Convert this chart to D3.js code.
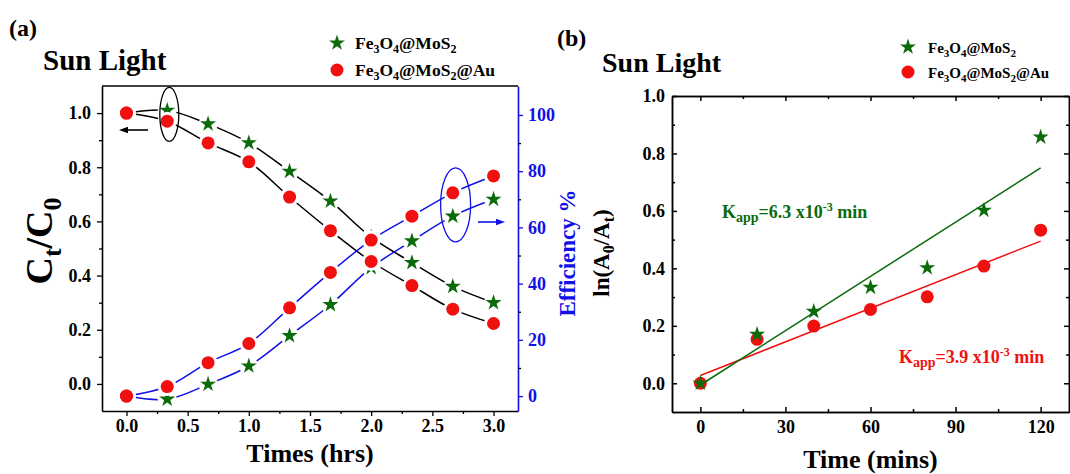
<!DOCTYPE html>
<html>
<head>
<meta charset="utf-8">
<script src="https://cdn.jsdelivr.net/npm/d3@7"></script>
<style>
  html, body { margin: 0; padding: 0; background: #fff; }
  svg { display: block; }
  text { font-family: "Liberation Serif", "Times New Roman", serif; font-weight: bold; }
</style>
</head>
<body>
<svg id="chart" width="1070" height="474"></svg>
<script>
// ---- Panel (a): degradation under sun light ----
const timesHrs   = [0, 0.333, 0.667, 1.0, 1.333, 1.667, 2.0, 2.333, 2.667, 3.0];
const ratioMoS2  = [1.00, 1.01, 0.96, 0.89, 0.785, 0.675, 0.542, 0.448, 0.36, 0.30];
const ratioAu    = [1.00, 0.97, 0.89, 0.82, 0.69, 0.566, 0.452, 0.363, 0.276, 0.223];
const effMoS2    = [0, -1.1, 4.2, 10.7, 21.5, 32.5, 45.7, 55.2, 64.0, 70.0];
const effAu      = [0, 3.4, 11.9, 18.7, 31.4, 44.0, 55.5, 64.0, 72.3, 78.3];
const hrsTicks   = [0, 0.5, 1.0, 1.5, 2.0, 2.5, 3.0];
const ratioTicks = [0, 0.2, 0.4, 0.6, 0.8, 1.0];
const effTicks   = [0, 20, 40, 60, 80, 100];

// ---- Panel (b): pseudo-first-order kinetics ----
const timeMins   = [0, 20, 40, 60, 80, 100, 120];
const lnMoS2     = [0, 0.17, 0.25, 0.334, 0.402, 0.602, 0.857];
const lnAu       = [0, 0.153, 0.199, 0.257, 0.301, 0.408, 0.533];
const kappMoS2   = 6.3;   // x10^-3 min^-1
const kappAu     = 3.9;   // x10^-3 min^-1
const fitIntercepts = { MoS2: -0.006, Au: 0.027 };
const minsTicks  = [0, 30, 60, 90, 120];
const lnTicks    = [0, 0.2, 0.4, 0.6, 0.8, 1.0];

const GREEN = "#0b6b0b", RED = "#f01010", BLUE = "#1010e8", BLACK = "#000";

const svg = d3.select("#chart");

// markers ------------------------------------------------------------
const starPath = d3.symbol().type(d3.symbolStar).size(80)();
function drawStars(g, pts, halo) {
  if (halo) g.selectAll(null).data(pts).join("circle")
    .attr("cx", d => d[0]).attr("cy", d => d[1]).attr("r", 9.5).attr("fill", "#fff");
  g.selectAll(null).data(pts).join("path")
    .attr("d", starPath).attr("transform", d => `translate(${d[0]},${d[1]})`)
    .attr("fill", GREEN);
}
function drawDots(g, pts, halo) {
  if (halo) g.selectAll(null).data(pts).join("circle")
    .attr("cx", d => d[0]).attr("cy", d => d[1]).attr("r", 9.5).attr("fill", "#fff");
  g.selectAll(null).data(pts).join("circle")
    .attr("cx", d => d[0]).attr("cy", d => d[1]).attr("r", 6.5).attr("fill", RED);
}
// chemical formula with subscripts
function formula(sel, parts, size, subSize) {
  const shift = Math.round(subSize * 0.35);
  let pending = 0;
  parts.forEach(p => {
    if (typeof p === "string") {
      sel.append("tspan").attr("dy", pending).attr("font-size", size).text(p);
      pending = 0;
    } else {
      sel.append("tspan").attr("dy", shift - pending).attr("font-size", subSize).text(p.sub);
      pending = -shift;
    }
  });
}
const fMoS2 = ["Fe", {sub: "3"}, "O", {sub: "4"}, "@MoS", {sub: "2"}];
const fAu   = ["Fe", {sub: "3"}, "O", {sub: "4"}, "@MoS", {sub: "2"}, "@Au"];

function arrow(g, x1, x2, y, color) {
  const dir = Math.sign(x2 - x1);
  g.append("line").attr("x1", x1).attr("x2", x2 - dir * 6).attr("y1", y).attr("y2", y)
    .attr("stroke", color).attr("stroke-width", 1.6);
  g.append("path").attr("d", `M${x2},${y} L${x2 - dir * 9},${y - 3.2} L${x2 - dir * 9},${y + 3.2} Z`)
    .attr("fill", color);
}

// ================= Panel (a) =================
{
  const L = 102, R = 518, T = 86, B = 411;
  const x = d3.scaleLinear().domain([-0.2, 3.2]).range([L, R]);
  const yL = d3.scaleLinear().domain([-0.1, 1.1]).range([B, T]);
  const yR = d3.scaleLinear().domain([-5.3, 110.3]).range([B, T]);
  const g = svg.append("g");

  // frame
  g.append("line").attr("x1", L).attr("x2", R).attr("y1", T).attr("y2", T).attr("stroke", BLACK).attr("stroke-width", 1.6);

  const ax = g.append("g").attr("transform", `translate(0,${B})`)
    .call(d3.axisBottom(x).tickValues(hrsTicks).tickFormat(d3.format(".1f")).tickSize(5).tickSizeOuter(0).tickPadding(3));
  g.append("g").attr("transform", `translate(0,${B})`)
    .call(d3.axisBottom(x).tickValues([0.25, 0.75, 1.25, 1.75, 2.25, 2.75]).tickFormat("").tickSize(3).tickSizeOuter(0))
    .select(".domain").remove();
  const ayl = g.append("g").attr("transform", `translate(${L},0)`)
    .call(d3.axisLeft(yL).tickValues(ratioTicks).tickFormat(d3.format(".1f")).tickSize(5).tickSizeOuter(0).tickPadding(6));
  g.append("g").attr("transform", `translate(${L},0)`)
    .call(d3.axisLeft(yL).tickValues([0.1, 0.3, 0.5, 0.7, 0.9]).tickFormat("").tickSize(3).tickSizeOuter(0))
    .select(".domain").remove();
  const ayr = g.append("g").attr("transform", `translate(${R},0)`)
    .call(d3.axisRight(yR).tickValues(effTicks).tickSize(5).tickSizeOuter(0).tickPadding(5));
  g.append("g").attr("transform", `translate(${R},0)`)
    .call(d3.axisRight(yR).tickValues([10, 30, 50, 70, 90]).tickFormat("").tickSize(3).tickSizeOuter(0))
    .select(".domain").remove();
  [ax, ayl].forEach(a => { a.selectAll("path,line").attr("stroke", BLACK).attr("stroke-width", 1.6);
    a.selectAll("text").attr("font-size", 18).attr("fill", BLACK).attr("font-family", "Liberation Serif").attr("font-weight", "bold"); });
  ayr.selectAll("path,line").attr("stroke", BLUE).attr("stroke-width", 1.6);
  ayr.selectAll("text").attr("font-size", 18).attr("fill", BLUE).attr("font-family", "Liberation Serif").attr("font-weight", "bold");
  g.selectAll(".tick line").attr("stroke-width", 1.3);

  // curves
  const lineL = d3.line().x((d, i) => x(timesHrs[i])).y(d => yL(d)).curve(d3.curveCatmullRom);
  const lineR = d3.line().x((d, i) => x(timesHrs[i])).y(d => yR(d)).curve(d3.curveCatmullRom);
  [ratioMoS2, ratioAu].forEach(s => g.append("path").attr("d", lineL(s)).attr("fill", "none").attr("stroke", BLACK).attr("stroke-width", 1.5));
  [effMoS2, effAu].forEach(s => g.append("path").attr("d", lineR(s)).attr("fill", "none").attr("stroke", BLUE).attr("stroke-width", 1.5));

  const pts = (s, y) => s.map((v, i) => [x(timesHrs[i]), y(v)]);
  const mk = g.append("g");
  drawStars(mk.append("g"), pts(ratioMoS2, yL), true);
  drawStars(mk.append("g"), pts(effMoS2, yR), true);
  drawDots(mk.append("g"), pts(ratioAu, yL), true);
  drawDots(mk.append("g"), pts(effAu, yR), true);
  drawDots(mk.append("g"), [[x(0), yL(1.0)], [x(0), yR(0)]], false);

  // annotation ellipses and arrows
  g.append("ellipse").attr("cx", x(0.35)).attr("cy", yL(0.995)).attr("rx", 9.5).attr("ry", 27)
    .attr("fill", "none").attr("stroke", BLACK).attr("stroke-width", 1.3);
  arrow(g, 148, 119, 130, BLACK);
  g.append("ellipse").attr("cx", x(2.69)).attr("cy", yR(68)).attr("rx", 15).attr("ry", 37)
    .attr("fill", "none").attr("stroke", BLUE).attr("stroke-width", 1.3);
  arrow(g, 478, 505, 222, BLUE);

  // axis titles
  g.append("text").attr("x", (L + R) / 2).attr("y", 462).attr("text-anchor", "middle").attr("font-size", 26).text("Times (hrs)");
  const yt = g.append("text").attr("transform", "translate(52,241) rotate(-90)").attr("text-anchor", "middle").attr("font-size", 38);
  yt.append("tspan").attr("font-size", 38).text("C");
  yt.append("tspan").attr("font-size", 26).attr("dy", 9).text("t");
  yt.append("tspan").attr("font-size", 38).attr("dy", -9).text("/C");
  yt.append("tspan").attr("font-size", 26).attr("dy", 9).text("0");
  g.append("text").attr("transform", "translate(575,253) rotate(-90)").attr("text-anchor", "middle")
    .attr("font-size", 23).attr("fill", BLUE).text("Efficiency %");

  // labels and legend
  g.append("text").attr("x", 9).attr("y", 36).attr("font-size", 24).text("(a)");
  g.append("text").attr("x", 43).attr("y", 70).attr("font-size", 29).text("Sun Light");
  drawStars(g.append("g"), [[337, 43]], false);
  drawDots(g.append("g"), [[337, 70]], false);
  formula(g.append("text").attr("x", 355).attr("y", 49).attr("font-size", 17.5), fMoS2, 17.5, 12);
  formula(g.append("text").attr("x", 355).attr("y", 76).attr("font-size", 17.5), fAu, 17.5, 12);
}

// ================= Panel (b) =================
{
  const L = 672, R = 1069, T = 96, B = 412;
  const x = d3.scaleLinear().domain([-10, 130]).range([L, R]);
  const y = d3.scaleLinear().domain([-0.1, 1.0]).range([B, T]);
  const g = svg.append("g");

  const styleAxis = a => {
    a.selectAll("path,line").attr("stroke", BLACK).attr("stroke-width", 1.5);
    a.selectAll("text").attr("font-size", 18).attr("fill", BLACK).attr("font-family", "Liberation Serif").attr("font-weight", "bold");
  };
  const minorX = [15, 45, 75, 105], minorY = [0.1, 0.3, 0.5, 0.7, 0.9];
  styleAxis(g.append("g").attr("transform", `translate(0,${B})`)
    .call(d3.axisBottom(x).tickValues(minsTicks).tickSize(-5).tickSizeOuter(0).tickPadding(8)));
  styleAxis(g.append("g").attr("transform", `translate(0,${B})`)
    .call(d3.axisBottom(x).tickValues(minorX).tickFormat("").tickSize(-3).tickSizeOuter(0)));
  styleAxis(g.append("g").attr("transform", `translate(0,${T})`)
    .call(d3.axisTop(x).tickValues(minsTicks).tickFormat("").tickSize(-5).tickSizeOuter(0)));
  styleAxis(g.append("g").attr("transform", `translate(0,${T})`)
    .call(d3.axisTop(x).tickValues(minorX).tickFormat("").tickSize(-3).tickSizeOuter(0)));
  styleAxis(g.append("g").attr("transform", `translate(${L},0)`)
    .call(d3.axisLeft(y).tickValues(lnTicks).tickFormat(d3.format(".1f")).tickSize(-5).tickSizeOuter(0).tickPadding(7)));
  styleAxis(g.append("g").attr("transform", `translate(${L},0)`)
    .call(d3.axisLeft(y).tickValues(minorY).tickFormat("").tickSize(-3).tickSizeOuter(0)));
  styleAxis(g.append("g").attr("transform", `translate(${R},0)`)
    .call(d3.axisRight(y).tickValues(lnTicks).tickFormat("").tickSize(-5).tickSizeOuter(0)));
  styleAxis(g.append("g").attr("transform", `translate(${R},0)`)
    .call(d3.axisRight(y).tickValues(minorY).tickFormat("").tickSize(-3).tickSizeOuter(0)));

  // linear fits
  const fit = (k, b) => [[0, b], [120, b + k * 1e-3 * 120]];
  const fl = d3.line().x(d => x(d[0])).y(d => y(d[1]));
  g.append("path").attr("d", fl(fit(kappAu, fitIntercepts.Au))).attr("stroke", RED).attr("stroke-width", 1.5).attr("fill", "none");
  g.append("path").attr("d", fl(fit(kappMoS2, fitIntercepts.MoS2))).attr("stroke", GREEN).attr("stroke-width", 1.5).attr("fill", "none");

  drawDots(g.append("g"), lnAu.map((v, i) => [x(timeMins[i]), y(v)]), false);
  drawStars(g.append("g"), lnMoS2.map((v, i) => [x(timeMins[i]), y(v)]), false);

  // rate constant labels
  const kLabel = (xx, yy, color, k) => {
    const t = g.append("text").attr("x", xx).attr("y", yy).attr("font-size", 18).attr("fill", color);
    t.append("tspan").attr("font-size", 18).text("K");
    t.append("tspan").attr("font-size", 14).attr("dy", 4).text("app");
    t.append("tspan").attr("font-size", 18).attr("dy", -4).text(`=${k.toFixed(1)} x10`);
    t.append("tspan").attr("font-size", 12).attr("dy", -7).text("-3");
    t.append("tspan").attr("font-size", 18).attr("dy", 7).text(" min");
  };
  kLabel(722, 218, GREEN, kappMoS2);
  kLabel(899, 363, RED, kappAu);

  // axis titles
  g.append("text").attr("x", (L + R) / 2).attr("y", 468).attr("text-anchor", "middle").attr("font-size", 26).text("Time (mins)");
  const yt = g.append("text").attr("transform", "translate(609,253) rotate(-90)").attr("text-anchor", "middle")
    .attr("font-size", 23).attr("font-family", "Liberation Sans");
  yt.append("tspan").attr("font-size", 23).text("ln(A");
  yt.append("tspan").attr("font-size", 16).attr("dy", 5).text("0");
  yt.append("tspan").attr("font-size", 23).attr("dy", -5).text("/A");
  yt.append("tspan").attr("font-size", 16).attr("dy", 5).text("t");
  yt.append("tspan").attr("font-size", 23).attr("dy", -5).text(")");

  // labels and legend
  g.append("text").attr("x", 557).attr("y", 46).attr("font-size", 24).text("(b)");
  g.append("text").attr("x", 602).attr("y", 72).attr("font-size", 28).text("Sun Light");
  drawStars(g.append("g"), [[908, 47]], false);
  drawDots(g.append("g"), [[908, 72]], false);
  formula(g.append("text").attr("x", 928).attr("y", 53).attr("font-size", 15), fMoS2, 15, 11);
  formula(g.append("text").attr("x", 928).attr("y", 78).attr("font-size", 15), fAu, 15, 11);
}
</script>
</body>
</html>
